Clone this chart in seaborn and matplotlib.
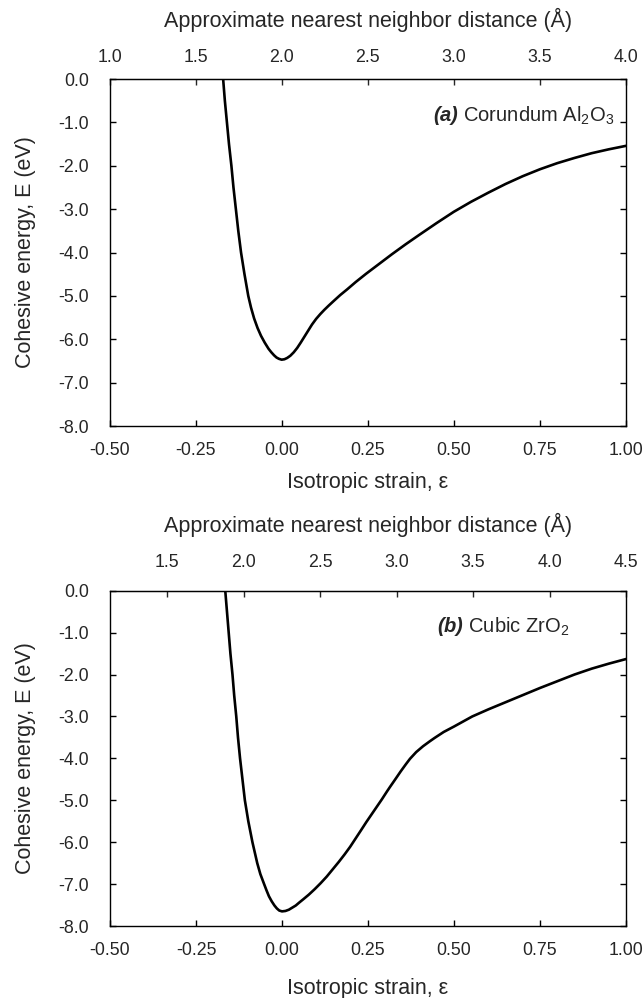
import matplotlib
matplotlib.use("Agg")
import matplotlib.pyplot as plt
import seaborn as sns
import pandas as pd

# ---------------- data ----------------
# (a) Corundum Al2O3
strain_a = [-0.170, -0.165, -0.159, -0.153, -0.146, -0.140, -0.133, -0.126, -0.118,
            -0.108, -0.097, -0.089, -0.080, -0.070, -0.060, -0.049, -0.038, -0.030,
            -0.022, -0.015, -0.008, 0.000, 0.008, 0.016, 0.025, 0.035, 0.045,
            0.055, 0.066, 0.077, 0.088, 0.100, 0.112, 0.124, 0.137, 0.152,
            0.170, 0.190, 0.215, 0.245, 0.280, 0.320, 0.360, 0.400, 0.450,
            0.500, 0.550, 0.600, 0.650, 0.700, 0.750, 0.800, 0.850, 0.900,
            0.950, 1.000]
energy_a = [0.00, -0.50, -1.00, -1.50, -2.00, -2.50, -3.00, -3.50, -4.00,
            -4.50, -5.00, -5.27, -5.52, -5.74, -5.92, -6.08, -6.22, -6.30,
            -6.37, -6.42, -6.45, -6.47, -6.46, -6.43, -6.38, -6.30, -6.20,
            -6.08, -5.94, -5.80, -5.66, -5.53, -5.42, -5.32, -5.22, -5.11,
            -4.98, -4.85, -4.68, -4.49, -4.28, -4.04, -3.81, -3.59, -3.32,
            -3.06, -2.83, -2.62, -2.42, -2.24, -2.08, -1.94, -1.82, -1.71,
            -1.62, -1.54]

# (b) Cubic ZrO2
strain_b = [-0.165, -0.160, -0.155, -0.150, -0.144, -0.139, -0.133, -0.128, -0.122,
            -0.115, -0.108, -0.098, -0.086, -0.079, -0.072, -0.063, -0.052, -0.045,
            -0.038, -0.030, -0.022, -0.015, -0.008, 0.000, 0.010, 0.020, 0.030,
            0.040, 0.050, 0.062, 0.078, 0.095, 0.112, 0.130, 0.147, 0.165,
            0.182, 0.198, 0.214, 0.230, 0.245, 0.260, 0.275, 0.290, 0.305,
            0.314, 0.330, 0.345, 0.360, 0.372, 0.390, 0.410, 0.430, 0.444,
            0.470, 0.500, 0.553, 0.600, 0.650, 0.700, 0.750, 0.800, 0.850,
            0.900, 0.950, 1.000]
energy_b = [0.00, -0.50, -1.00, -1.50, -2.00, -2.50, -3.00, -3.50, -4.00,
            -4.50, -5.00, -5.50, -6.00, -6.25, -6.50, -6.76, -7.00, -7.15,
            -7.29, -7.41, -7.51, -7.58, -7.63, -7.65, -7.64, -7.61, -7.56,
            -7.51, -7.44, -7.36, -7.25, -7.12, -6.98, -6.82, -6.65, -6.47,
            -6.29, -6.11, -5.91, -5.71, -5.52, -5.34, -5.16, -4.98, -4.79,
            -4.68, -4.49, -4.31, -4.14, -4.01, -3.85, -3.71, -3.59, -3.51,
            -3.37, -3.24, -3.00, -2.83, -2.66, -2.49, -2.32, -2.16, -2.00,
            -1.86, -1.74, -1.63]

strain_ticks = [-0.50, -0.25, 0.00, 0.25, 0.50, 0.75, 1.00]
energy_ticks = [0.0, -1.0, -2.0, -3.0, -4.0, -5.0, -6.0, -7.0, -8.0]
dist_ticks_a = [1.0, 1.5, 2.0, 2.5, 3.0, 3.5, 4.0]
dist_ticks_b = [1.5, 2.0, 2.5, 3.0, 3.5, 4.0, 4.5]
d0_a = 2.0    # nearest neighbor distance at zero strain (Å)
d0_b = 2.25

labels = [r"$\mathbfit{(a)}$ Corundum Al$_2$O$_3$", r"$\mathbfit{(b)}$ Cubic ZrO$_2$"]
label_x = [0.965, 0.835]

# ---------------- styling ----------------
sns.set_style("ticks")
plt.rcParams["font.family"] = ["Liberation Sans", "DejaVu Sans"]
plt.rcParams["mathtext.fontset"] = "custom"
plt.rcParams["mathtext.rm"] = "Liberation Sans"
plt.rcParams["mathtext.it"] = "Liberation Sans:italic"
plt.rcParams["mathtext.bf"] = "Liberation Sans:bold"
plt.rcParams["mathtext.bfit"] = "Liberation Sans:bold:italic"

fig = plt.figure(figsize=(6.43, 9.98), dpi=100)
ax_a = fig.add_axes([0.1703, 0.5731, 0.8033, 0.3477])
ax_b = fig.add_axes([0.1711, 0.0721, 0.8025, 0.3360])

panels = [
    # ax, x, y, d0, top ticks, label, label x, top pad, title pad, xlabel pad
    (ax_a, strain_a, energy_a, d0_a, dist_ticks_a, labels[0], label_x[0], 9.5, 16, 9.5),
    (ax_b, strain_b, energy_b, d0_b, dist_ticks_b, labels[1], label_x[1], 14, 16, 14),
]

TICK_FS = 12.8
LABEL_FS = 15.5

for ax, xs, ys, d0, dticks, lab, lx, tpad, ttl_pad, xl_pad in panels:
    df = pd.DataFrame({"strain": xs, "energy": ys})
    sns.lineplot(data=df, x="strain", y="energy", ax=ax, color="black",
                 linewidth=1.9, estimator=None, sort=False)
    ax.set_xlim(-0.5, 1.0)
    ax.set_ylim(-8.0, 0.0)
    ax.set_xticks(strain_ticks)
    ax.set_xticklabels([f"{t:.2f}" for t in strain_ticks])
    ax.set_yticks(energy_ticks)
    ax.set_yticklabels([f"{t:.1f}" for t in energy_ticks])
    ax.tick_params(axis="both", which="major", direction="in", length=4, width=1,
                   labelsize=TICK_FS, right=True, top=False, color="black")
    ax.tick_params(axis="x", pad=11.5)
    ax.tick_params(axis="y", pad=15)
    for s in ax.spines.values():
        s.set_linewidth(1.0)
        s.set_color("black")
        s.set_visible(True)
    ax.set_xlabel("Isotropic strain, ε", fontsize=LABEL_FS, labelpad=xl_pad)
    ax.set_ylabel("Cohesive energy, E (eV)", fontsize=LABEL_FS, labelpad=16)

    sec = ax.secondary_xaxis("top",
                             functions=(lambda e, d0=d0: d0 * (1 + e),
                                        lambda d, d0=d0: d / d0 - 1))
    sec.set_xticks(dticks)
    sec.set_xticklabels([f"{t:.1f}" for t in dticks])
    sec.tick_params(direction="in", length=4, width=1, labelsize=TICK_FS, pad=tpad)
    sec.set_xlabel("Approximate nearest neighbor distance (Å)", fontsize=LABEL_FS,
                   labelpad=ttl_pad)

    ax.text(lx, -0.85, lab, fontsize=14.5, ha="right", va="center")

fig.savefig("out.png", dpi=100, facecolor="white")
